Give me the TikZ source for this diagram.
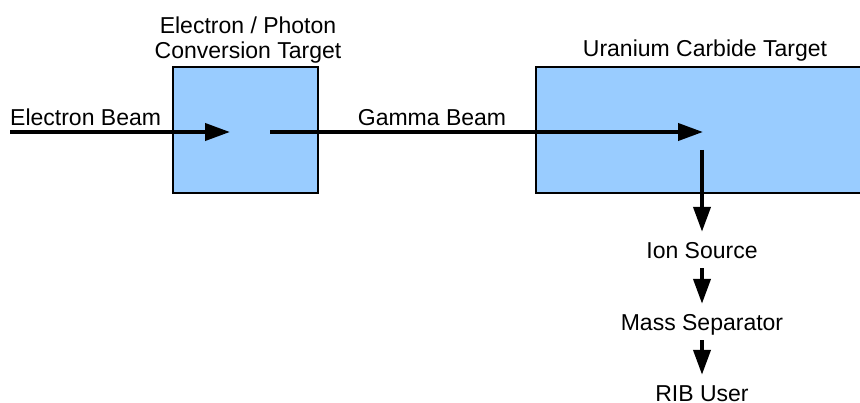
\documentclass[tikz,border=0pt]{standalone}
\usepackage{fontspec}
\setmainfont{Liberation Sans}
\usetikzlibrary{arrows.meta}
\begin{document}
\begin{tikzpicture}[x=1pt,y=-1pt,
  every node/.style={font=\fontsize{23}{25}\selectfont},
  target/.style={draw=black,line width=1.5pt,fill=tblue,inner sep=0pt},
  beam/.style={line width=4pt,-{Triangle[length=25pt,width=17pt]}},
  stage/.style={inner sep=0pt,minimum height=36pt,text height=20pt,text depth=2pt},
  lbl/.style={inner sep=0pt,text height=20pt,text depth=2pt}]
\definecolor{tblue}{HTML}{99CCFF}
\useasboundingbox (0,0) rectangle (860,403);
% targets
\node[target,minimum width=145pt,minimum height=126pt] (conv) at (245.5,130) {};
\node[target,minimum width=330pt,minimum height=126pt,anchor=west] (uc) at (535,130) {};
% labels of targets
\node[lbl,align=center] (convlbl) at (248,50) {Electron / Photon\\Conversion Target};
\node[lbl] (uclbl) at (705,48) {Uranium Carbide Target};
% beams
\coordinate (ebstart) at (10,132);
\coordinate (ebend) at (230,132);
\coordinate (gbstart) at (270,132);
\coordinate (gbend) at (703,132);
\coordinate (outstart) at (702,150);
\draw[beam] (ebstart) -- (ebend);
\draw[beam] (gbstart) -- (gbend);
\node[lbl,anchor=west] (eblbl) at (10,117) {Electron Beam};
\node[lbl] (gblbl) at (432,117) {Gamma Beam};
% chain
\node[stage] (ion) at (702,250) {Ion Source};
\node[stage] (mass) at (702,322) {Mass Separator};
\node[stage] (rib) at (702,393) {RIB User};
\draw[beam] (outstart) -- (ion.north);
\draw[beam] (ion.south) -- (mass.north);
\draw[beam] (mass.south) -- (rib.north);
\end{tikzpicture}
\end{document}
